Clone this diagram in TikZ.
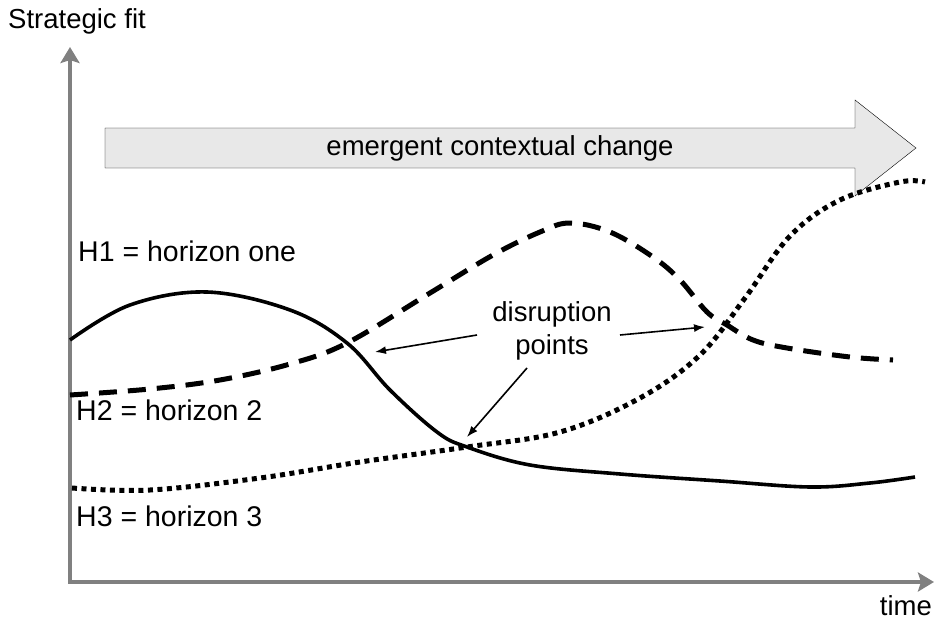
\documentclass[tikz,border=0pt]{standalone}
\usepackage{fontspec}
\setmainfont{Liberation Sans}
\usepackage{tikz}
\usetikzlibrary{arrows.meta}

\begin{document}
\begin{tikzpicture}[x=1pt,y=-1pt]
      \tikzstyle{point} = [coordinate]
      \tikzstyle{lbl} = [inner sep=0pt, font=\fontsize{27.5}{33}\selectfont]
      \tikzstyle{hlbl} = [lbl, anchor=west, font=\fontsize{28.5}{33}\selectfont]
      \tikzstyle{axis} = [line width=4pt, draw=black!50, -{Stealth[length=16pt,width=19pt,inset=3pt]}]
      \tikzstyle{hz} = [line width=3.6pt, line join=round]
      \tikzstyle{pointer} = [line width=1.6pt, -{Latex[length=11pt,width=8pt]}]
      \useasboundingbox (0,0) rectangle (935,621);
      % axes
      \node (o) [point] at (70,582) {};
      \node (ytip) [point] at (70,47) {};
      \node (xtip) [point] at (934,582) {};
      \draw [axis] (o.center) -- ++(0,-2) -- (ytip);
      \draw [axis] ([xshift=-2pt]o.center) -- (xtip);
      \node (ylab) [lbl] at (77,21) {Strategic fit};
      \node (xlab) [lbl, anchor=east] at (932,606) {time};
      % context arrow
      \draw [thin, fill=black!9] (105,128) -- (855,128) -- (855,100) -- (916,148)
        -- (855,196) -- (855,168) -- (105,168) -- cycle;
      \node (chg) [lbl] at (500,148) {emergent contextual change};
      % horizons
      \draw [hz] plot [smooth, tension=0.6] coordinates {(70,340) (130,305) (207,292)
        (290,310) (347,343) (390,390) (437,432) (467,447) (530,465) (620,474)
        (720,481) (810,487) (870,483) (915,477)};
      \draw [hz, line width=5pt, dash pattern=on 18pt off 11pt] plot [smooth, tension=0.6]
        coordinates {(70,395) (150,389) (220,380) (290,364) (347,343) (430,293)
        (493,255) (540,232) (570,223) (610,232) (653,257) (680,280) (707,312)
        (727,325) (753,340) (787,348) (850,357) (893,360)};
      \draw [hz, line width=5pt, dash pattern=on 5pt off 4.5pt] plot [smooth, tension=0.6]
        coordinates {(72,488) (150,490) (260,478) (360,462) (467,447) (560,432)
        (640,398) (700,355) (745,298) (790,236) (840,200) (900,182) (925,182)};
      \node (h1) [hlbl] at (78,251) {H1 = horizon one};
      \node (h2) [hlbl] at (76,410) {H2 = horizon 2};
      \node (h3) [hlbl] at (76,516) {H3 = horizon 3};
      % disruption points
      \node (dis) [lbl, align=center] at (552,331) {disruption\\points};
      \node (d1) [point] at (375,352) {};
      \node (d2) [point] at (705,327) {};
      \node (d3) [point] at (467,437) {};
      \node (t1) [point] at (477,335) {};
      \node (t2) [point] at (620,335) {};
      \node (t3) [point] at (527,368) {};
      \draw [pointer] (t1)--(d1);
      \draw [pointer] (t2)--(d2);
      \draw [pointer] (t3)--(d3);
    \end{tikzpicture}
\end{document}
